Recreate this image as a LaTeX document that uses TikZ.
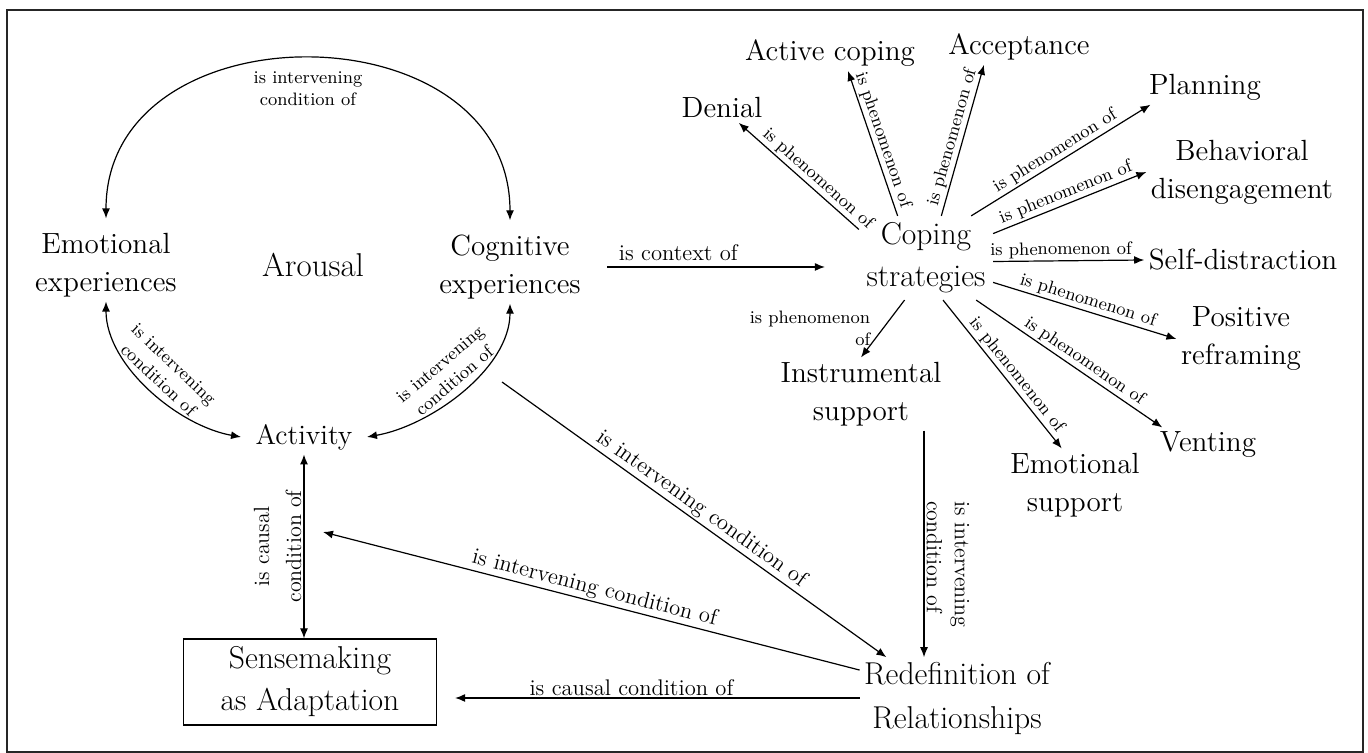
\documentclass[tikz,border=0pt]{standalone}
\usepackage{fontspec}
\usetikzlibrary{arrows.meta}
\begin{document}
\begin{tikzpicture}[x=0.5pt, y=0.5pt, line width=0.6pt,
            >={Latex[length=5pt,width=4pt]},
            concept/.style={align=center, inner sep=2pt, font=\fontsize{14.6}{19}\selectfont},
            core/.style={align=center, inner sep=2pt, font=\fontsize{15.8}{21}\selectfont},
            rel/.style={inner sep=1pt, font=\fontsize{9}{11}\selectfont},
            relbig/.style={inner sep=1pt, font=\fontsize{11.3}{14}\selectfont}]

        \useasboundingbox (0,0) rectangle (1368,753);
        \draw[line width=0.8pt, black!85] (7,1) rectangle (1363,743);

        % Define vertices
        \node[concept] (emo) at (106,488) {Emotional\\experiences};
        \node[core, font=\fontsize{16.5}{21}\selectfont] (arousal) at (313,488) {Arousal};
        \node[concept] (cog) at (510,486) {Cognitive\\experiences};
        \node[concept, font=\fontsize{14}{19}\selectfont] (act) at (304,316) {Activity};
        \node[core, draw, minimum width=126.5pt, minimum height=43pt] (sense) at (310,71) {Sensemaking\\as Adaptation};
        \node[core, font=\fontsize{15.8}{22}\selectfont] (redef) at (957,55) {Redefinition of\\Relationships};
        \node[core, inner sep=0pt, minimum width=66.5pt, minimum height=41.5pt] (coping) at (926,495) {Coping\\strategies};
        \node[concept] (denial) at (722,645) {Denial};
        \node[concept] (active) at (830,700) {Active coping};
        \node[concept] (accept) at (1019,706) {Acceptance};
        \node[concept] (plan) at (1205,666) {Planning};
        \node[concept] (behav) at (1242,581) {Behavioral\\disengagement};
        \node[concept] (selfd) at (1243,493) {Self-distraction};
        \node[concept] (posit) at (1241,414) {Positive\\reframing};
        \node[concept] (vent) at (1208,308) {Venting};
        \node[concept] (emosup) at (1075,268) {Emotional\\support};
        \node[concept] (instr) at (861,359) {Instrumental\\support};
        \coordinate (cogtail) at (502,371);
        \coordinate (causaltip) at (323,221);

        % Draw edges
        \draw[<->] ([yshift=5pt]emo.north) to[out=90, in=90, looseness=1.35]
            node[midway, below=5pt, align=center, rel] {is intervening\\condition of} ([yshift=5pt]cog.north);
        \draw[<->] (emo.south) to[out=-90, in=170, looseness=0.85]
            node[midway, above=2pt, sloped, align=center, rel] {is intervening\\condition of} ([xshift=-5pt]act.west);
        \draw[<->] ([xshift=5pt]act.east) to[out=10, in=-90, looseness=0.85]
            node[midway, above=2pt, sloped, align=center, rel] {is intervening\\condition of} (cog.south);
        \draw[<->] (act.south |- sense.north) -- (act.south)
            node[midway, above, sloped, align=center, relbig, font=\fontsize{11}{16}\selectfont] {is causal\\condition of};
        \draw[->, shorten <=11pt, shorten >=17pt] (cog.east) -- (cog.east -| coping.west)
            node[pos=0.34, above=2pt, relbig] {is context of};

        \path[->, every node/.style={rel, sloped, above}]
            (coping.157) edge node[pos=0.4] {is phenomenon of} (denial)
            (coping.124) edge node {is phenomenon of} (active.-45)
            (coping.70) edge node {is phenomenon of} (accept.-153)
            (coping.43) edge node {is phenomenon of} (plan.-162)
            (coping.20) edge node {is phenomenon of} (behav.west)
            (coping.-3) edge node[pos=0.45] {is phenomenon of} (selfd.west)
            (coping.-20) edge node {is phenomenon of} (posit.west)
            (coping.-40) edge node[pos=0.55] {is phenomenon of} (vent.159)
            (coping.-68) edge node[pos=0.55] {is phenomenon of} (emosup.110);
        \draw[->] (coping.-117) -- (instr.north)
            node[midway, left=5pt, align=right, rel] {is phenomenon\\of};

        \draw[->] ([xshift=31.5pt]instr.south) -- ([xshift=31.5pt]instr.south |- redef.north)
            node[pos=0.59, above, sloped, align=left, relbig, font=\fontsize{11}{14}\selectfont] {is intervening\\condition of};
        \draw[->] (cogtail) -- (redef.150)
            node[midway, above, sloped, relbig] {is intervening condition of};
        \draw[->] (redef.164) -- (causaltip)
            node[midway, above, sloped, relbig] {is intervening condition of};
        \draw[->, shorten >=9pt] (redef.west) -- (redef.west -| sense.east)
            node[pos=0.54, above, relbig] {is causal condition of};

        \end{tikzpicture}
\end{document}
